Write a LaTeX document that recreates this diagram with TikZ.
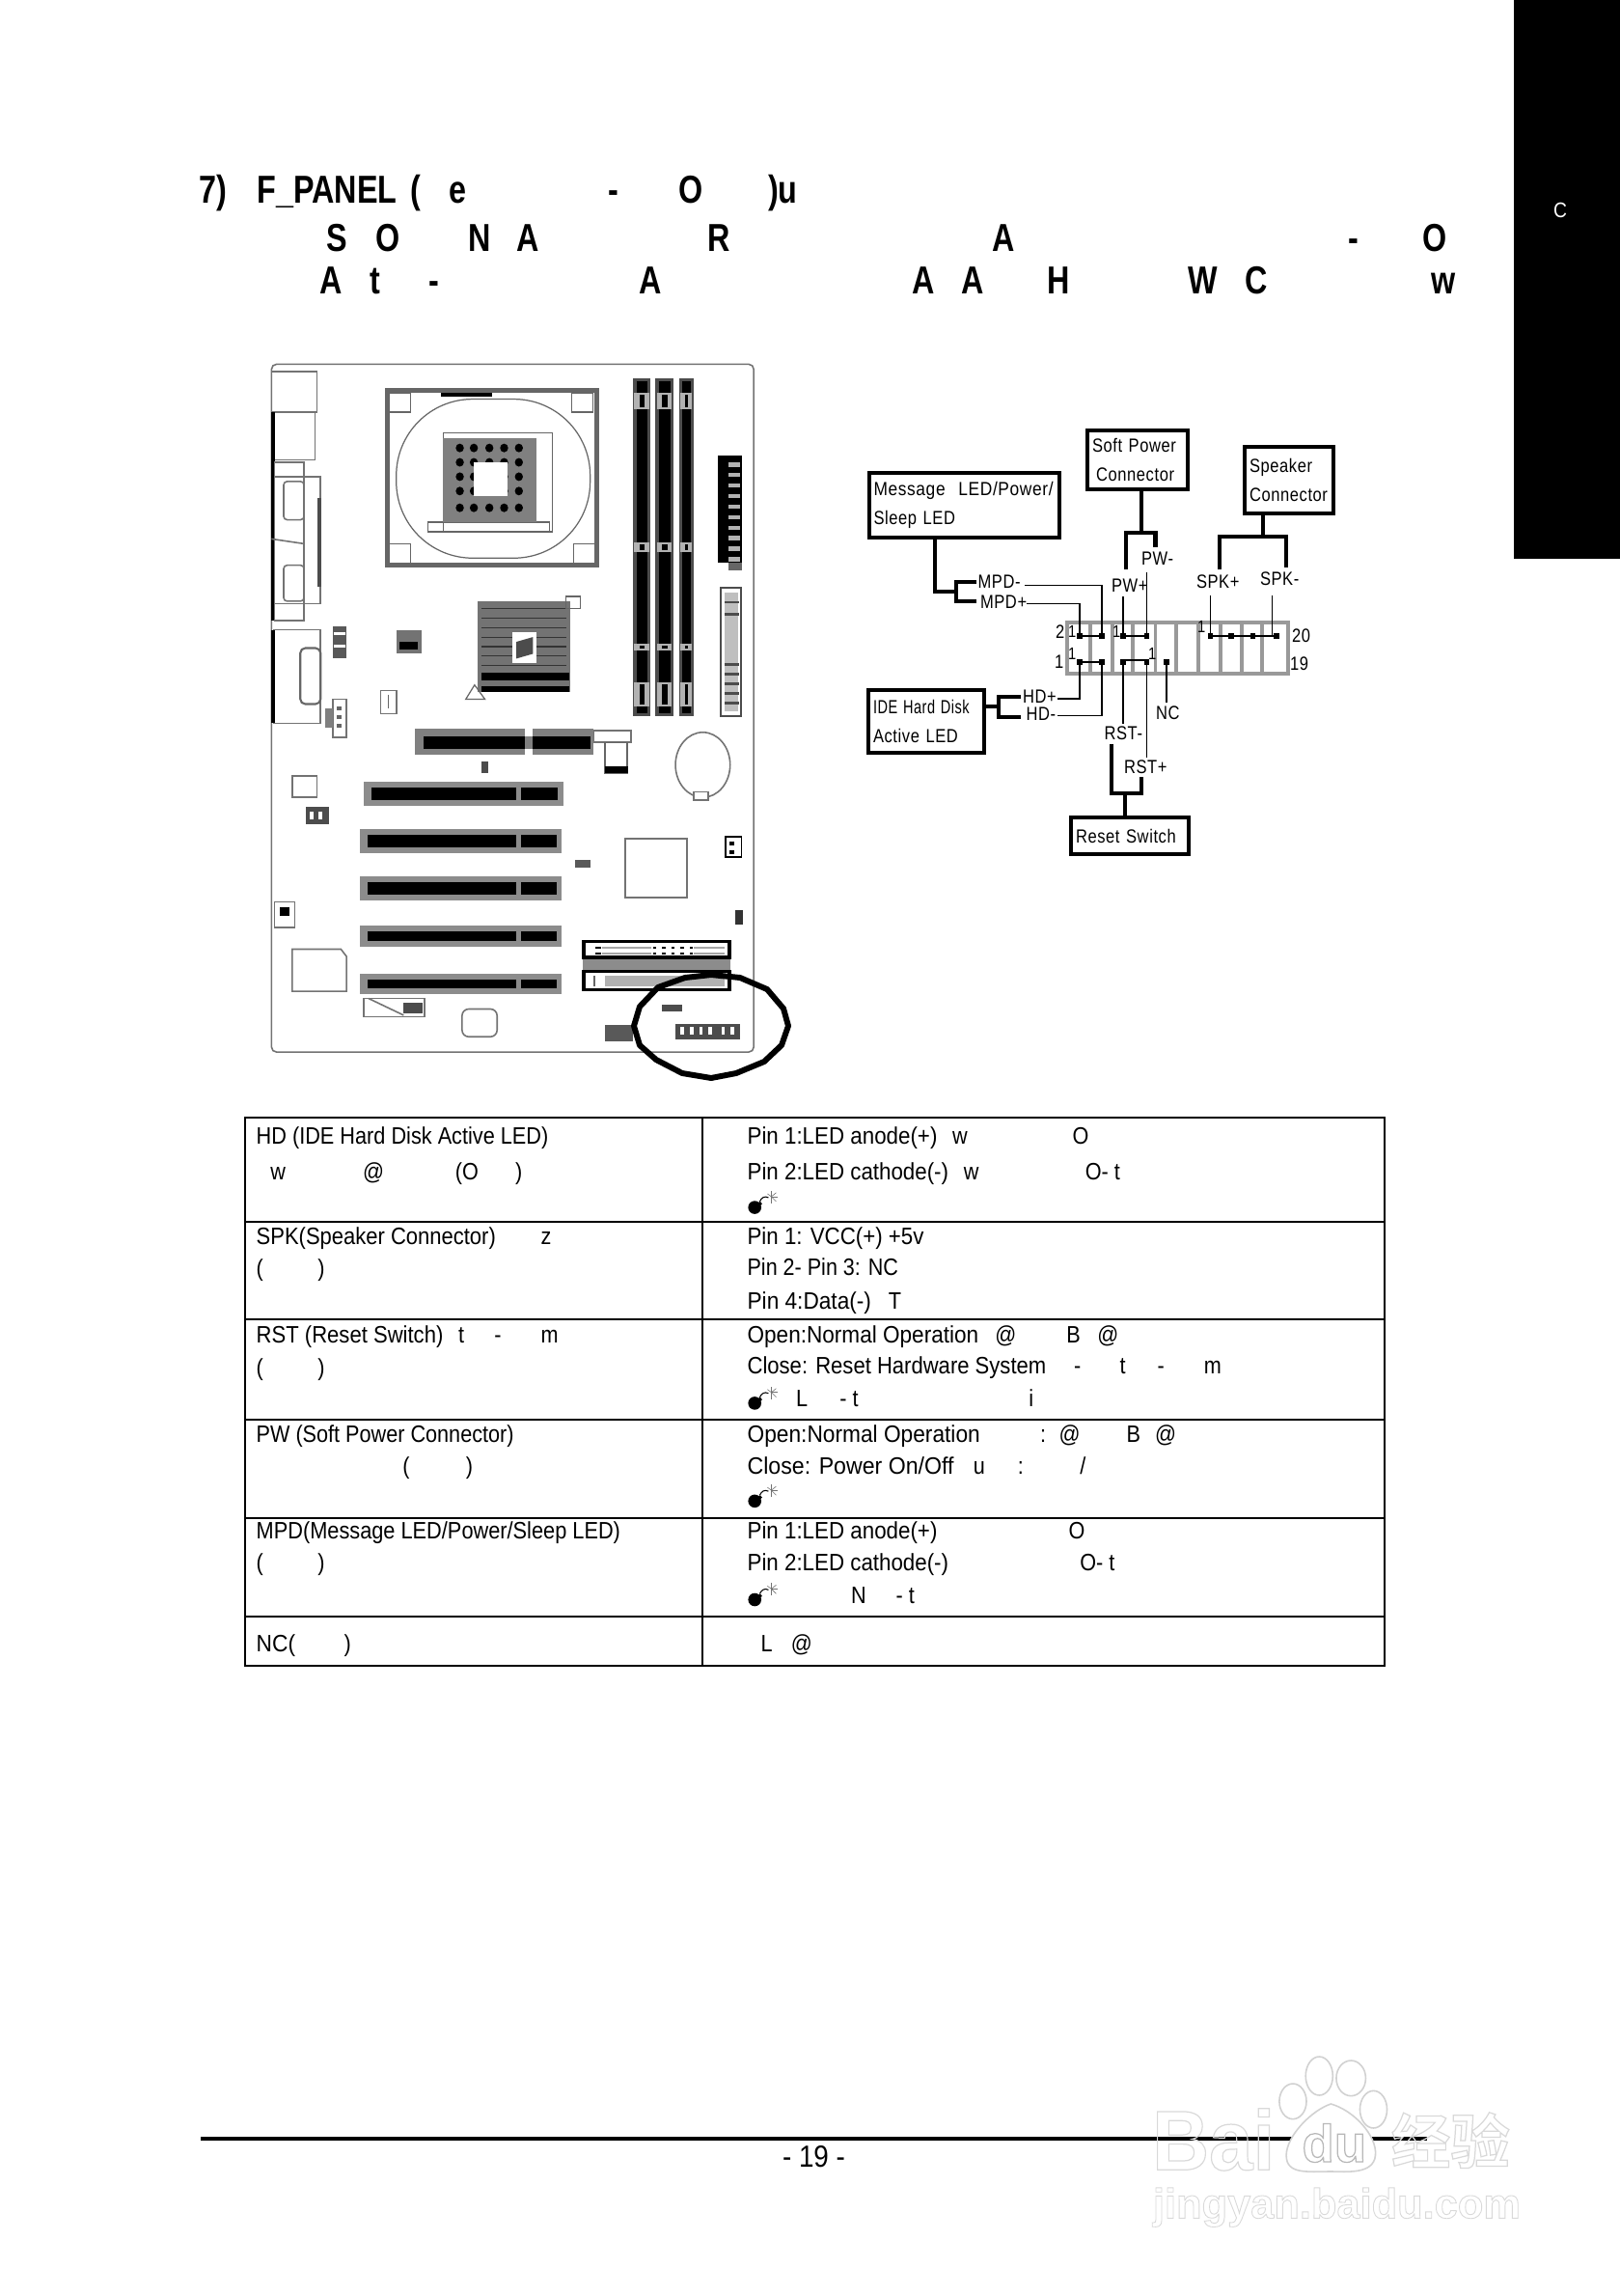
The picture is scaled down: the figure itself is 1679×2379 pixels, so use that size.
\documentclass[tikz,border=0pt]{standalone}
\usepackage{fontspec}
\usepackage{graphicx}
\setmainfont{Liberation Sans}
\newfontfamily\bodyf[FakeStretch=0.88]{Liberation Sans}
\newfontfamily\titlef[FakeStretch=0.8]{Liberation Sans Bold}
\newfontfamily\labf[FakeStretch=0.84,LetterSpace=3]{Liberation Sans}
\newfontfamily\markf{Liberation Sans Bold}
\newfontfamily\cjkf{Noto Sans CJK SC Bold}
\usetikzlibrary{calc}
\newcount\tc
\tikzset{
  x=0.02cm,y=-0.02cm,
  tb/.style={anchor=base west,inner sep=0pt,outer sep=0pt,font=\bodyf\fontsize{14}{16}\selectfont},
  tt/.style={anchor=base west,inner sep=0pt,outer sep=0pt,font=\titlef\fontsize{23}{26}\selectfont},
  lb/.style={anchor=base west,inner sep=0pt,outer sep=0pt,font=\labf\fontsize{11.2}{13}\selectfont},
  pl/.style={anchor=base west,inner sep=0pt,outer sep=0pt,font=\labf\fontsize{10}{11}\selectfont},
  bx/.style={draw=black,line width=2.3pt,outer sep=0pt,inner xsep=2.8pt,inner ysep=0pt,align=left,font=\labf\fontsize{11.2}{17}\selectfont},
  wire/.style={draw=black,line width=2.3pt,line join=miter},
  thinw/.style={draw=black,line width=0.9pt},
  pinmark/.style={fill=black,inner sep=0pt,minimum size=3pt,outer sep=0pt},
  hdr/.style={draw=black!40,line width=2pt},
  rule/.style={draw=black,line width=1.1pt},
  pcb/.style={draw=black!55,line width=0.9pt},
  pcbt/.style={draw=black!60,line width=0.7pt},
  wm/.style={draw=black!18,line width=0.9pt,fill=white},
  bombmark/.pic={
    \fill[black] (6.8,-6.8) circle (6.8);
    \fill[black] (9.5,-11) -- (12.5,-13) -- (14.5,-10.5) -- (11.5,-8) -- cycle;
    \draw[black,line width=0.6pt] (12,-13) .. controls (14,-17) and (17,-19) .. (21,-17);
    \foreach \a/\b in {24/-24,29/-22,31/-18,29/-13,24/-11,20/-21}{\draw[black!55,line width=0.35pt] (24,-18) -- (\a,\b);}
  }
}
\newcommand\tx[4][tb]{\global\advance\tc by 1 \node[#1] (n\the\tc) at (#2,#3) {#4};}
\newcommand\fw[4]{\global\advance\tc by 1 \pgfmathsetlengthmacro\fwW{(#3-#1)/1.285*0.56906pt}\node[tb] (n\the\tc) at (#1,#2) {\resizebox{\fwW}{\height}{#4}};}
\newcommand\boxnode[6]{\pgfmathsetlengthmacro\bW{(#4-#2)*0.56906pt}\pgfmathsetlengthmacro\bH{(#5-#3)*0.56906pt}\pgfmathsetlengthmacro\bT{(#4-#2-10)*0.56906pt}\node[bx,minimum width=\bW,minimum height=\bH,text width=\bT] (#1) at ({(#2+#4)/2},{(#3+#5)/2}) {#6};}
\begin{document}
\begin{tikzpicture}
\useasboundingbox (0,0) rectangle (1679,2379);
\fill[white] (0,0) rectangle (1679,2379);
% side tab
\fill[black] (1569,0) rectangle (1679,579);
\tx[anchor=base,inner sep=0pt,text=white,font=\bodyf\fontsize{12.5}{14}\selectfont]{1617}{226}{C}
% title
\begin{scope}[shift={(180,160)},xscale=0.893,yscale=0.3333]
\foreach \xx/\t in {30/7),97/F\_PANEL,275/(,320/e,505/-,586/O,690/)u}{\tx[tt]{\xx}{152}{\t}}
\foreach \xx/\t in {178/S,235/O,342/N,398/A,620/R,950/A,1363/-,1450/O}{\tx[tt]{\xx}{302}{\t}}
\foreach \xx/\t in {170/A,228/t,296/-,540/A,857/A,914/A,1014/H,1178/W,1243/C,1460/w}{\tx[tt]{\xx}{435}{\t}}
\end{scope}
% motherboard drawn in zoom coordinates
\begin{scope}[shift={(250,360)},xscale=0.3827,yscale=0.496]
\draw[pcb,rounded corners=3pt] (82,35) -- (1388,35) -- (1388,1472) -- (82,1472) -- cycle;
% rear IO
\draw[pcb] (82,50) rectangle (205,135);
\draw[pcb] (88,135) rectangle (200,235);
\fill[black] (82,135) rectangle (92,570);
\draw[pcb] (90,240) rectangle (170,570);
\draw[pcb] (90,270) rectangle (215,535);
\fill[black!70] (207,315) rectangle (217,500);
\draw[pcb,rounded corners=2pt] (115,280) rectangle (170,360);
\draw[pcb,rounded corners=2pt] (115,455) rectangle (170,530);
\draw[pcb] (82,400) -- (170,410);
\draw[pcb] (88,590) rectangle (215,785);
\fill[black] (82,590) rectangle (92,785);
\draw[draw=black!60,line width=1.2pt,rounded corners=3pt] (160,628) rectangle (215,745);
% CPU socket
\draw[draw=black!60,line width=3pt] (396,90) rectangle (962,455);
\draw[pcbt,rounded corners=45pt] (420,108) rectangle (945,440);
\fill[black] (540,94) rectangle (680,103);
\foreach \xx/\yy in {400/95,895/95,400/410,900/410}{\draw[pcbt,fill=white] (\xx,\yy) rectangle +(58,40);}
\draw[pcbt] (547,178) rectangle (843,385);
\draw[pcbt] (505,365) rectangle (835,385);
\fill[black!50] (547,190) rectangle (800,365);
\foreach \xx in {592,630,672,712,752}{\foreach \yy in {210,240,270,300,335}{\fill[black] (\xx,\yy) ellipse (11 and 9);}}
\fill[white] (630,240) rectangle (720,310);
% north bridge
\fill[black!55] (640,530) rectangle (890,720);
\foreach \yy in {545,565,585,605,625,645,665}{\draw[black!80,line width=0.6pt] (650,\yy) -- (880,\yy);}
\fill[white] (735,595) rectangle (800,660);
\fill[black!70] (745,615) -- (790,605) -- (790,640) -- (745,650) -- cycle;
\fill[black] (650,680) rectangle (888,695);
\fill[black] (650,707) rectangle (888,720);
\draw[pcbt] (880,520) rectangle (918,545);
\draw[pcbt] (608,735) -- (632,705) -- (660,735) -- cycle;
% DIMMs
\foreach \xa/\xb in {1060/1108,1122/1170,1185/1225}{
  \fill[black!70] (\xa,65) rectangle (\xb,770);
  \fill[black] ({\xa+10},70) rectangle ({\xb-8},765);
  \foreach \ya/\yb in {95/130,408/428,618/634,700/750}{\fill[white!70!black] ({\xa+4},\ya) rectangle ({\xb-4},\yb);\fill[black] ({\xa+18},{\ya+4}) rectangle ({\xb-16},{\yb-4});}
}
% ATX and floppy
\fill[black] (1290,225) rectangle (1355,450);
\foreach \yy in {240,262,284,306,328,350,372,394,416,438}{\fill[black!30] (1320,\yy) rectangle (1352,{\yy+9});}
\fill[black!60] (1320,450) rectangle (1355,465);
\draw[draw=black!70,line width=1.4pt] (1298,502) rectangle (1354,770);
\fill[black!25] (1310,512) rectangle (1345,760);
\foreach \yy in {530,555,660,680,700,720,740}{\fill[black!70] (1308,\yy) rectangle (1347,{\yy+5});}
% small parts
\fill[black!65] (248,582) rectangle (285,650);
\foreach \yy in {595,620}{\fill[white] (252,\yy) rectangle (282,{\yy+6});}
\fill[black!55] (420,590) rectangle (488,640);
\fill[black] (428,615) rectangle (478,632);
\draw[pcb] (378,717) rectangle (420,765);
\draw[pcbt] (398,725) -- (398,755);
\draw[pcb] (248,735) rectangle (285,815);
\fill[black!50] (228,755) rectangle (248,795);
\foreach \yy in {750,768,786}{\fill[black!60] (258,\yy) rectangle (272,{\yy+8});}
% AGP
\fill[black!50] (470,797) rectangle (955,850);
\fill[black] (495,812) rectangle (768,838);
\fill[black] (790,812) rectangle (945,838);
\fill[white] (768,797) rectangle (790,812);
\fill[white] (768,838) rectangle (790,850);
\draw[pcb] (955,800) rectangle (1055,825);
\draw[pcbt] (985,825) rectangle (1045,890);
\fill[black] (985,875) rectangle (1048,890);
\fill[black!70] (650,865) rectangle (668,890);
% battery
\draw[draw=black!55,line width=0.9pt] (1250,872) circle (74 and 68);
\draw[pcb,fill=white] (1225,928) rectangle (1265,945);
% PCI slots
\foreach \xa/\ya/\xb/\yb in {332/908/872/958,322/1007/868/1057,322/1105/868/1155,322/1208/868/1252,322/1308/868/1350}{
  \fill[black!45] (\xa,\ya) rectangle (\xb,\yb);
  \fill[black] ({\xa+20},{\ya+12}) rectangle (745,{\yb-12});
  \fill[black] (758,{\ya+12}) rectangle ({\xb-14},{\yb-12});
}
% other parts
\draw[pcb] (138,895) rectangle (205,940);
\fill[black!70] (175,960) rectangle (238,995);
\fill[white] (185,970) rectangle (195,985);
\fill[white] (210,970) rectangle (220,985);
\fill[black!65] (905,1070) rectangle (945,1087);
\draw[draw=black!55,line width=1.1pt] (1040,1027) rectangle (1208,1150);
\draw[draw=black,line width=1pt] (1312,1022) rectangle (1355,1065);
\fill[black] (1322,1032) rectangle (1336,1040);
\fill[black] (1322,1050) rectangle (1336,1058);
\fill[black!80] (1338,1175) rectangle (1358,1205);
\draw[pcb] (90,1158) rectangle (145,1212);
\fill[black] (105,1170) rectangle (130,1188);
\draw[pcb] (138,1257) -- (270,1257) -- (285,1272) -- (285,1345) -- (138,1345) -- cycle;
% IDE
\fill[black!45] (925,1274) rectangle (1325,1302);
\draw[draw=black,line width=2pt] (928,1241) rectangle (1322,1274);
\foreach \yy in {1252,1264}{
  \fill[black!35] (978,\yy) rectangle (1110,{\yy+5});
  \fill[black!35] (1225,\yy) rectangle (1310,{\yy+5});
  \fill[black] (958,\yy) rectangle (975,{\yy+5});
  \foreach \xx in {1115,1140,1165,1190,1215}{\fill[black] (\xx,\yy) rectangle ({\xx+9},{\yy+5});}
}
\draw[draw=black,line width=2pt] (928,1303) rectangle (1322,1342);
\fill[black!30] (985,1312) rectangle (1310,1334);
\fill[black!60] (955,1312) rectangle (960,1334);
\draw[pcb] (332,1360) rectangle (497,1398);
\fill[black!70] (440,1368) rectangle (490,1392);
\draw[pcb] (345,1360) -- (440,1395);
\draw[pcb,rounded corners=4pt] (598,1382) rectangle (693,1440);
\fill[black!65] (985,1415) rectangle (1060,1450);
\fill[black!70] (1140,1372) rectangle (1195,1388);
\fill[black!70] (1175,1413) rectangle (1352,1445);
\foreach \xx in {1190,1215,1240,1265,1300,1325}{\fill[white] (\xx,1420) rectangle ({\xx+10},1436);}
\end{scope}
% highlight ring
\draw[black,line width=3.4pt,line join=round] (657,1063) -- (663,1043) -- (682,1023) -- (710,1013) -- (737,1010) -- (767,1013) -- (795,1025) -- (812,1045) -- (817,1063) -- (810,1083) -- (792,1100) -- (763,1112) -- (737,1117) -- (707,1112) -- (680,1098) -- (663,1083) -- cycle;
% connector diagram
\boxnode{msg}{900.5}{490.3}{1098}{556.7}{\scalebox{1.05}[1]{Message \ LED/Power/}\\Sleep LED}
\boxnode{soft}{1127}{445.7}{1231}{506.7}{Soft Power\\\hspace*{2.3pt}Connector}
\boxnode{spk}{1290}{463.3}{1382}{532}{Speaker\\Connector}
\boxnode{ide}{900}{715}{1020}{780}{\scalebox{0.88}[1]{IDE Hard Disk}\\Active LED}
\boxnode{rst}{1110}{847.3}{1232}{885.3}{Reset Switch}
% header
\draw[hdr] (1106,645) rectangle (1335,698);
\foreach \xx in {1130,1153,1174,1197.5,1219,1242,1265,1287,1308}{\draw[hdr] (\xx,645) -- (\xx,698);}
% pins
\foreach \nm/\xx in {a/1119,b/1142,c/1164,d/1188.6,e/1254.6,f/1276,g/1298.6,h/1323}{\node[pinmark] (pt\nm) at (\xx,659) {};}
\foreach \nm/\xx in {a/1119,b/1142,c/1164,d/1188.6,e/1209}{\node[pinmark] (pb\nm) at (\xx,686) {};}
\draw[thinw] (pta) -- (ptb);
\draw[thinw] (ptc) -- (ptd);
\draw[thinw] (pte) -- (pth);
\draw[thinw] (pba) -- (pbb);
\draw[thinw] (pbc |- 0,684) -- (pbd |- 0,684);
% pin numbers
\foreach \xx/\yy in {1107/660,1153/660,1107/683,1190/683,1241/655}{\tx[pl]{\xx}{\yy}{1}}
\tx[lb]{1094}{661.7}{2}
\tx[lb]{1093}{692.7}{1}
\tx[lb]{1339}{665.7}{20}
\tx[lb]{1337}{694}{19}
% labels
\node[lb] (lPWm) at (1183,585.7) {PW-};
\node[lb] (lPWp) at (1152,613.3) {PW+};
\node[lb] (lSPp) at (1240,609) {SPK+};
\node[lb] (lSPm) at (1306,606.7) {SPK-};
\node[lb] (lMPm) at (1013.6,609.3) {MPD-};
\node[lb] (lMPp) at (1016,630) {MPD+};
\node[lb] (lHDp) at (1060,728) {HD+};
\node[lb] (lHDm) at (1063.6,746) {HD-};
\node[lb] (lRSm) at (1144.6,766.7) {RST-};
\node[lb] (lRSp) at (1165,801.7) {RST+};
\node[lb] (lNC) at (1198,745) {NC};
% thick wiring
\coordinate (jm) at (969,612.7);
\coordinate (bm) at (991,612.7);
\draw[wire] (msg.south -| jm) -- (jm) -- (bm);
\draw[wire] (1012,602.7) -| (bm) |- (1012,623.3);
\coordinate (js) at (1183,552.3);
\draw[wire] (soft.south -| js) -- (js);
\draw[wire] (1167,590) |- (js) -| (1197.5,566.7);
\coordinate (jp) at (1309,556);
\draw[wire] (spk.south -| jp) -- (jp);
\draw[wire] (1263.6,590) |- (jp) -| (1333,588.3);
\coordinate (ji) at (1035,732.3);
\draw[wire] (ide.east |- ji) -- (ji);
\draw[wire] (1057.5,721.7) -| (ji) |- (1057.5,742.7);
\coordinate (jr) at (1166.4,821.7);
\draw[wire] (rst.north -| jr) -- (jr);
\draw[wire] (1152,770.7) |- (jr) -| (1183,805);
% thin wiring
\coordinate (eMPm) at (1062,606.7);
\coordinate (eMPp) at (1063.6,625.7);
\coordinate (eHDp) at (1096.4,724);
\coordinate (eHDm) at (1096.4,741.7);
\draw[thinw] (eMPm) -| (ptb);
\draw[thinw] (eMPp) -| (pta);
\draw[thinw] (eHDp) -| (pba);
\draw[thinw] (eHDm) -| (pbb);
\draw[thinw] (ptc |- 0,618.3) -- (ptc);
\draw[thinw] (ptd |- 0,592.7) -- (ptd);
\draw[thinw] (pte |- 0,616.7) -- (pte);
\draw[thinw] (1318.6,616.7) -- (1318.6,660);
\draw[thinw] (pbc) -- (pbc |- 0,750);
\draw[thinw] (pbd) -- (pbd |- 0,785);
\draw[thinw] (pbe) -- (pbe |- 0,728.3);
% table
\begin{scope}[shift={(240,1140)},xscale=0.7782,yscale=0.3827]
\draw[rule] (18,47) rectangle (1535,1532);
\draw[rule] (627,47) -- (627,1532);
\foreach \yy in {328,593,865,1132,1398}{\draw[rule] (18,\yy) -- (1535,\yy);}
\fw{33}{118}{422}{HD (IDE Hard Disk Active LED)}
\foreach \xx/\t in {52/w,175/@,298/(O,378/)}{\tx{\xx}{215}{\t}}
\fw{687}{118}{940}{Pin 1:LED anode(+)}
\tx{960}{118}{w}\tx{1120}{118}{O}
\fw{687}{215}{955}{Pin 2:LED cathode(-)}
\tx{975}{215}{w}\tx{1137}{215}{O- t}
\pic at (688,308) {bombmark};
\fw{33}{390}{352}{SPK(Speaker Connector)}
\tx{412}{390}{z}
\foreach \xx/\t in {33/(,115/)}{\tx{\xx}{478}{\t}}
\fw{687}{390}{922}{Pin 1: VCC(+) +5v}
\fw{687}{475}{888}{Pin 2- Pin 3: NC}
\fw{687}{565}{852}{Pin 4:Data(-)}
\tx{875}{565}{T}
\fw{33}{657}{282}{RST (Reset Switch)}
\foreach \xx/\t in {302/t,350/-,412/m}{\tx{\xx}{657}{\t}}
\foreach \xx/\t in {33/(,115/)}{\tx{\xx}{745}{\t}}
\fw{687}{657}{995}{Open:Normal Operation}
\foreach \xx/\t in {1017/@,1112/B,1153/@}{\tx{\xx}{657}{\t}}
\fw{687}{742}{1085}{Close: Reset Hardware System}
\foreach \xx/\t in {1122/-,1183/t,1233/-,1295/m}{\tx{\xx}{742}{\t}}
\pic at (688,838) {bombmark};
\foreach \xx/\t in {752/L,810/- t,1062/i}{\tx{\xx}{830}{\t}}
\fw{33}{925}{376}{PW (Soft Power Connector)}
\foreach \xx/\t in {228/(,312/)}{\tx{\xx}{1012}{\t}}
\fw{687}{925}{997}{Open:Normal Operation}
\foreach \xx/\t in {1077/:,1102/@,1192/B,1230/@}{\tx{\xx}{925}{\t}}
\fw{687}{1012}{962}{Close: Power On/Off}
\foreach \xx/\t in {988/u,1047/:,1130/\slash}{\tx{\xx}{1012}{\t}}
\pic at (688,1103) {bombmark};
\fw{33}{1187}{518}{MPD(Message LED/Power/Sleep LED)}
\foreach \xx/\t in {33/(,115/)}{\tx{\xx}{1275}{\t}}
\fw{687}{1187}{940}{Pin 1:LED anode(+)}
\tx{1115}{1187}{O}
\fw{687}{1275}{955}{Pin 2:LED cathode(-)}
\tx{1130}{1275}{O- t}
\pic at (688,1370) {bombmark};
\foreach \xx/\t in {825/N,885/- t}{\tx{\xx}{1362}{\t}}
\fw{33}{1492}{85}{NC(}
\tx{150}{1492}{)}
\tx{705}{1492}{L}\tx{745}{1492}{@}
\end{scope}
% footer
\coordinate (footL) at (208,2215.7);
\coordinate (footR) at (1479,2215.7);
\draw[black,line width=2.3pt] (footL) -- (footR);
\node[anchor=base,inner sep=0pt,font=\bodyf\fontsize{18}{20}\selectfont] (pageno) at (843.5,2245) {- 19 -};
% watermark
\begin{scope}[shift={(1050,2100)},xscale=0.4016,yscale=0.3333]
\draw[wm] (790,153) ellipse (35 and 60);
\draw[wm] (872,160) ellipse (38 and 55);
\draw[wm] (722,232) ellipse (35 and 55);
\draw[wm] (930,257) ellipse (35 and 58);
\draw[wm] (820,240) .. controls (880,260) and (940,340) .. (935,400) .. controls (930,460) and (860,450) .. (820,450) .. controls (760,450) and (705,460) .. (705,400) .. controls (705,340) and (770,260) .. (820,240) -- cycle;
\node[anchor=base west,inner sep=0pt,text=white,font=\markf\fontsize{50}{55}\selectfont] (wmBai) at (358,445) {\special{pdf:code 1 Tr 0.85 G 0.7 w}\scalebox{0.93}[1]{Bai}\special{pdf:code 0 Tr 0 G}};
\node[anchor=base west,inner sep=0pt,text=white,font=\markf\fontsize{31}{34}\selectfont] (wmdu) at (745,420) {\special{pdf:code 1 Tr 0.72 G 0.7 w}du\special{pdf:code 0 Tr 0 G}};
\node[anchor=base west,inner sep=0pt,text=white,font=\cjkf\fontsize{35}{38}\selectfont] (wmjy) at (975,425) {\special{pdf:code 1 Tr 0.85 G 0.7 w}经验\special{pdf:code 0 Tr 0 G}};
\node[anchor=base west,inner sep=0pt,text=white,font=\markf\fontsize{24.7}{28}\selectfont] (wmurl) at (360,595) {\special{pdf:code 1 Tr 0.85 G 0.5 w}jingyan.baidu.com\special{pdf:code 0 Tr 0 G}};
\end{scope}
\end{tikzpicture}
\end{document}
